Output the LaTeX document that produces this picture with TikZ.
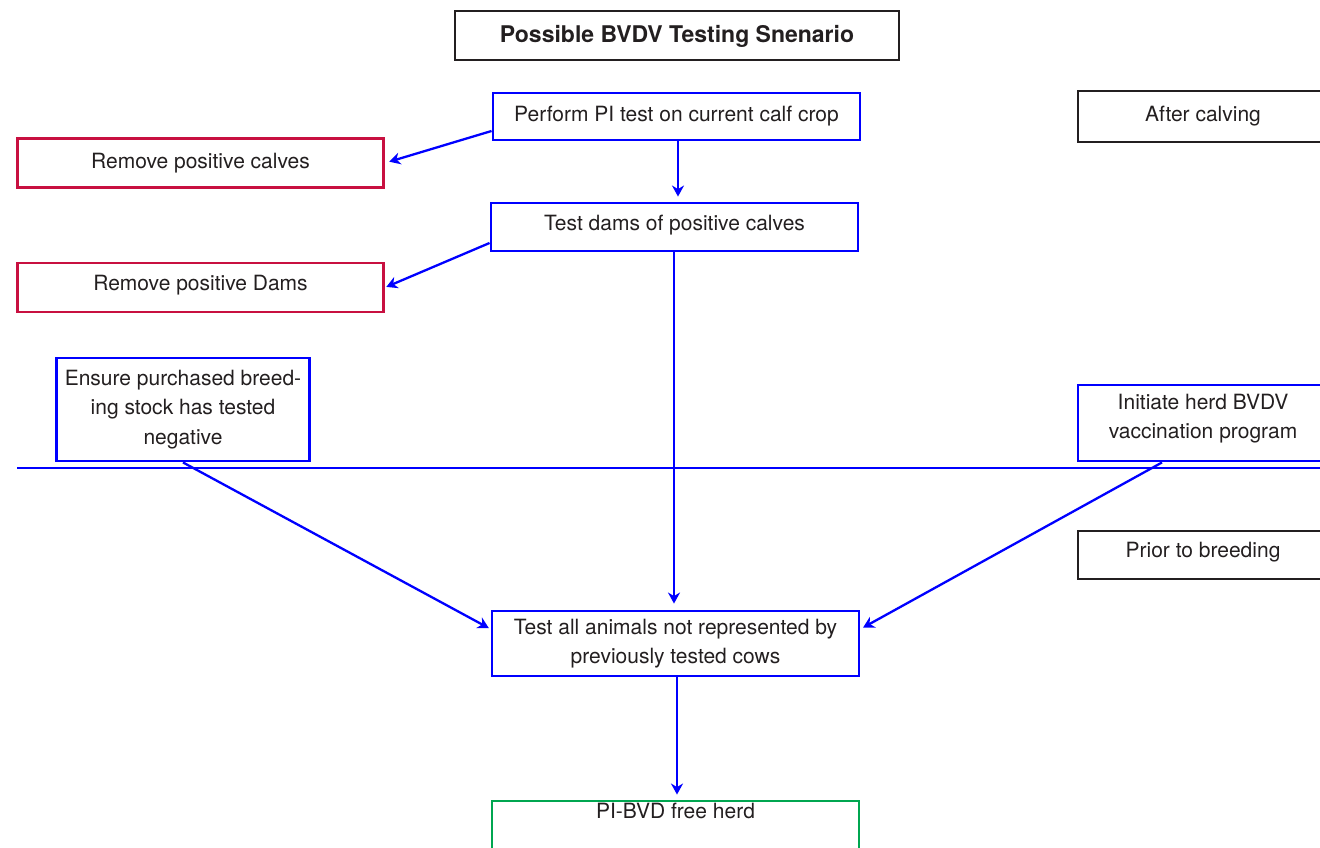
\documentclass[tikz,border=0pt]{standalone}
\usepackage{fontspec}
\setmainfont{TeX Gyre Heros}
\usetikzlibrary{arrows.meta}
\definecolor{bl}{RGB}{0,0,255}
\definecolor{crim}{RGB}{200,16,64}
\definecolor{grn}{RGB}{0,166,80}
\definecolor{txt}{RGB}{35,31,32}
\begin{document}
\begin{tikzpicture}[x=1pt,y=-1pt,
  basebox/.style={draw, rectangle, line width=2.9pt, inner sep=0pt, text=txt,
    font=\fontsize{21}{29.5}\selectfont, align=center},
  single/.style={text height=15pt, text depth=4.5pt},
  bluebox/.style={basebox, draw=bl},
  redbox/.style={basebox, draw=crim},
  greenbox/.style={basebox, draw=grn},
  blackbox/.style={basebox, draw=txt, line width=2.6pt},
  conn/.style={draw=bl, line width=2.3pt, -{Stealth[length=11pt,width=12pt,inset=3.5pt]}},
  divider/.style={draw=bl, line width=2.3pt}
]
\useasboundingbox (0,0) rectangle (1320,848);
\clip (0,0) rectangle (1320,848);

% title
\node[blackbox, font=\fontsize{23}{28}\selectfont\bfseries, text height=16.5pt, text depth=3pt,
  minimum width=444pt, minimum height=49pt] (title) at (677,35.5) {Possible BVDV Testing Snenario};

% main column
\node[bluebox, single, minimum width=367pt, minimum height=47pt] (pi) at (676.5,116.5)
  {Perform PI test on current calf crop};
\node[bluebox, single, text depth=9pt, minimum width=367pt, minimum height=48pt] (td) at (674.5,227)
  {Test dams of positive calves};
\node[bluebox, minimum width=367pt, minimum height=65pt] (ta) at (675.5,643.5)
  {Test all animals not represented by\\previously tested cows};
\node[greenbox, text height=15pt, text depth=51pt, minimum width=367pt, minimum height=70pt] (free) at (675.5,836)
  {PI-BVD free herd};

% left column
\node[redbox, single, minimum width=366pt, minimum height=49pt] (rc) at (200.5,163)
  {Remove positive calves};
\node[redbox, single, text depth=10pt, minimum width=366pt, minimum height=49pt] (rd) at (200.5,287.5)
  {Remove positive Dams};
\node[bluebox, minimum width=253pt, minimum height=103pt] (ens) at (183,409.5)
  {Ensure purchased breed-\\ing stock has tested\\negative};

% right column
\node[blackbox, single, minimum width=250pt, minimum height=51pt] (after) at (1203,116.5)
  {After calving};
\node[bluebox, minimum width=250pt, minimum height=76pt] (ini) at (1203,423)
  {Initiate herd BVDV\\vaccination program\rule[-13pt]{0pt}{0pt}};
\node[blackbox, single, text depth=11pt, minimum width=250pt, minimum height=48pt] (prior) at (1203,555)
  {Prior to breeding};

% divider line
\coordinate (hl) at (17,468);
\coordinate (hr) at (1330,468);
\draw[divider] (hl) -- (hr);

% connectors
\draw[conn, shorten >=4.5pt] ([yshift=-14.5pt]pi.west) -- (rc.east);
\draw[conn, shorten >=5pt] ([xshift=1.5pt]pi.south) -- ([xshift=1.5pt]pi.south |- td.north);
\draw[conn, shorten >=1.5pt] ([yshift=-16pt]td.west) -- (rd.east);
\draw[conn, shorten >=6pt] ([xshift=-0.5pt]td.south) -- ([xshift=-0.5pt]td.south |- ta.north);
\draw[conn, shorten >=2pt] (ens.south) -- ([yshift=14.5pt]ta.west);
\draw[conn, shorten >=3pt] ([xshift=-41pt]ini.south) -- ([yshift=14.5pt]ta.east);
\draw[conn, shorten >=5pt] ([xshift=1.5pt]ta.south) -- ([xshift=1.5pt]ta.south |- free.north);
\end{tikzpicture}
\end{document}
